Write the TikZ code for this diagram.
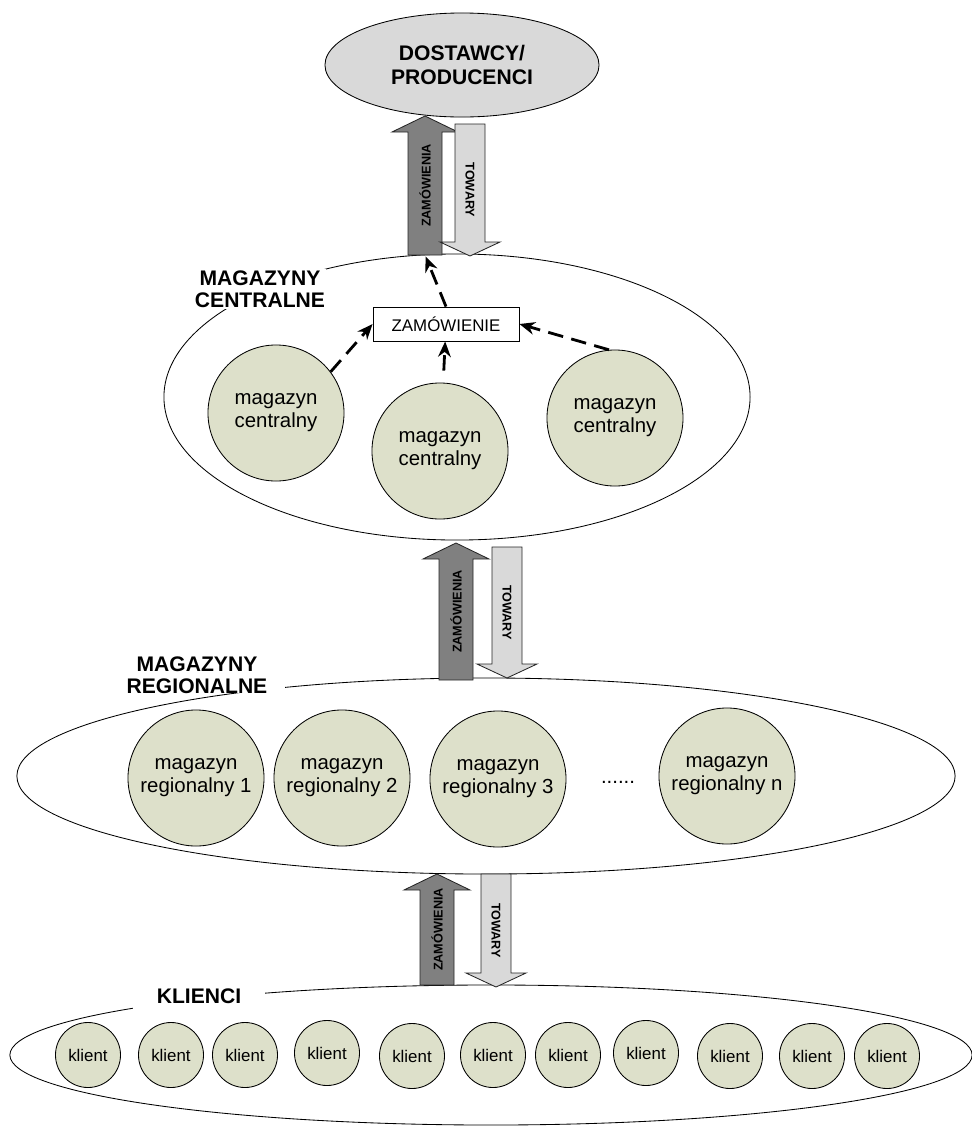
\documentclass[tikz,border=0pt]{standalone}
\usepackage{fontspec}
\setmainfont{Liberation Sans}
\usetikzlibrary{arrows.meta,shapes.geometric}

\definecolor{magfill}{HTML}{DDE0CA}
\definecolor{orderfill}{HTML}{808080}
\definecolor{goodsfill}{HTML}{D9D9D9}

\begin{document}
\begin{tikzpicture}[x=0.025cm,y=-0.025cm,
    group/.style={draw,ellipse,line width=0.6pt,inner sep=0pt},
    grouplabel/.style={fill=white,align=center,inner sep=0pt,
        font=\fontsize{15}{15.6}\selectfont\bfseries},
    bigstore/.style={draw,circle,fill=magfill,line width=0.6pt,minimum size=3.4cm,
        inner sep=0pt,align=center,font=\fontsize{14.5}{16.5}\selectfont},
    client/.style={draw,circle,fill=magfill,line width=0.6pt,minimum size=1.625cm,
        inner sep=0pt,font=\fontsize{12}{14}\selectfont},
    orderarrow/.style={draw=black!85,fill=orderfill,line width=0.6pt},
    goodsarrow/.style={draw=black!85,fill=goodsfill,line width=0.6pt},
    arrowtext/.style={inner sep=0pt,font=\fontsize{9}{9}\selectfont\bfseries},
    flow/.style={line width=2pt,dash pattern=on 11pt off 6pt,
        -{Stealth[length=11pt,width=9pt]}}]
    \useasboundingbox (0,0) rectangle (972,1126);

    % suppliers
    \node[group,fill=goodsfill,minimum width=6.85cm,minimum height=2.6cm,
        align=center,font=\fontsize{15}{17}\selectfont\bfseries]
        (suppliers) at (462,65) {DOSTAWCY/\\PRODUCENCI};

    % groups
    \node[group,minimum width=14.65cm,minimum height=7.15cm] (central) at (457,397) {};
    \node[group,minimum width=23.45cm,minimum height=4.9cm] (regional) at (486,776) {};
    \node[group,minimum width=24.05cm,minimum height=3.5cm] (clients) at (491,1055) {};

    \node[grouplabel,inner sep=1pt] (clab) at (260,289) {MAGAZYNY\\CENTRALNE};
    \node[grouplabel,inner xsep=0.43cm] (rlab) at (197,675) {MAGAZYNY\\REGIONALNE};
    \node[grouplabel,inner xsep=0.6cm,inner ysep=0.15cm] (klab) at (199,996) {KLIENCI};

    % central warehouses
    \node[bigstore] (mc1) at (276,413) {magazyn\\centralny};
    \node[bigstore] (mc2) at (440,451) {magazyn\\centralny};
    \node[bigstore] (mc3) at (615,418) {magazyn\\centralny};
    \node[draw,fill=white,line width=0.6pt,minimum width=3.65cm,minimum height=0.85cm,
        font=\fontsize{12}{14}\selectfont] (order) at (446,324) {ZAMÓWIENIE};

    % regional warehouses
    \node[bigstore] (mr1) at (196,778) {magazyn\\regionalny 1};
    \node[bigstore] (mr2) at (342,778) {magazyn\\regionalny 2};
    \node[bigstore] (mr3) at (498,779) {magazyn\\regionalny 3};
    \node[anchor=base,inner sep=0pt,font=\fontsize{14.5}{16.5}\selectfont]
        (dots) at (618,783) {......};
    \node[bigstore] (mrn) at (727,776) {magazyn\\regionalny n};

    % clients
    \foreach \x/\y [count=\i] in {88/1055,171/1055,245/1055,327/1053,412/1056,493/1055,
        568/1055,646/1053,730/1056,812/1056,887/1056}
        \node[client] (k\i) at (\x,\y) {klient};

    % orders up, goods down
    \foreach \ux/\ub/\ut/\gx/\gt/\gb [count=\i] in
        {425/255/116/470/124/256, 456/680/543/507/547/678, 437/985/874/496/874/987}{
        \draw[orderarrow] (\ux-17,\ub) -- (\ux-17,\ut+16) -- (\ux-33,\ut+16) -- (\ux,\ut)
            -- (\ux+33,\ut+16) -- (\ux+17,\ut+16) -- (\ux+17,\ub) -- cycle;
        \draw[goodsarrow] (\gx-15,\gt) -- (\gx-15,\gb-14) -- (\gx-30,\gb-14) -- (\gx,\gb)
            -- (\gx+30,\gb-14) -- (\gx+15,\gb-14) -- (\gx+15,\gt) -- cycle;
        \node[arrowtext,rotate=90] (zw\i) at (\ux,{(\ub+\ut)/2}) {ZAMÓWIENIA};
        \node[arrowtext,rotate=-90] (tw\i) at (\gx,{(\gt+\gb)/2}) {TOWARY};
        \coordinate (zb\i) at (\ux,\ub);
    }

    % order flow
    \draw[flow] (mc1.37) -- (order.west);
    \draw[flow,shorten <=0.3cm] (mc2) -- (order);
    \draw[flow] (mc3.95) -- (order.east);
    \draw[flow,shorten >=1pt] (order.north) -- (zb1);
\end{tikzpicture}
\end{document}
